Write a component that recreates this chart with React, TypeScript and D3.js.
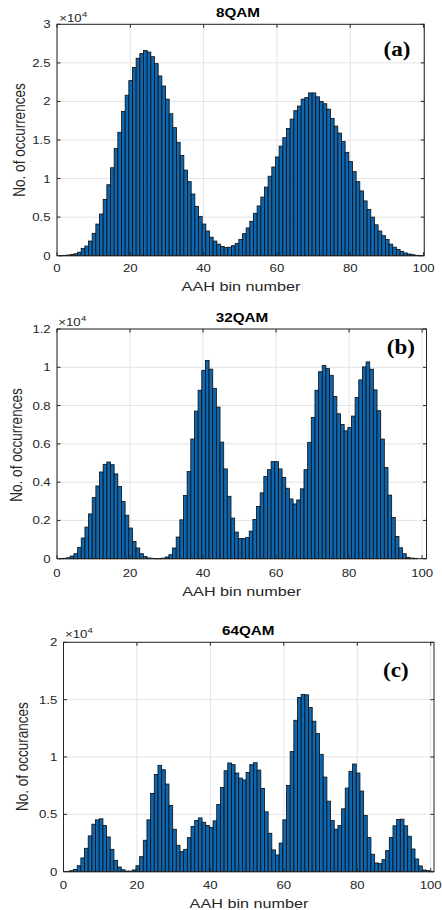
import React from "react";
import * as d3 from "d3";

// Histogram counts, in units of 10^4 occurrences, for AAH bins 1..N
const qam8Counts = [
  0.002, 0.004, 0.008, 0.015, 0.025, 0.045, 0.095, 0.125, 0.19, 0.29,
  0.41, 0.54, 0.73, 0.92, 1.14, 1.39, 1.6, 1.87, 2.08, 2.27,
  2.44, 2.56, 2.62, 2.66, 2.64, 2.58, 2.49, 2.33, 2.2, 2.03,
  1.84, 1.66, 1.47, 1.3, 1.11, 0.96, 0.8, 0.64, 0.51, 0.41,
  0.32, 0.24, 0.19, 0.15, 0.12, 0.105, 0.11, 0.13, 0.16, 0.21,
  0.286, 0.36, 0.446, 0.55, 0.645, 0.76, 0.89, 1.03, 1.15, 1.28,
  1.42, 1.53, 1.65, 1.77, 1.88, 1.94, 2.03, 2.05, 2.11, 2.11,
  2.06, 2.0, 1.97, 1.9, 1.78, 1.68, 1.59, 1.48, 1.34, 1.22,
  1.09, 0.96, 0.84, 0.71, 0.6, 0.5, 0.4, 0.32, 0.26, 0.21,
  0.15, 0.11, 0.08, 0.056, 0.035, 0.022, 0.013, 0.005, 0.002,
];

const qam32Counts = [
  0.001, 0.002, 0.005, 0.014, 0.026, 0.059, 0.108, 0.165, 0.234, 0.319,
  0.38, 0.453, 0.493, 0.505, 0.491, 0.443, 0.377, 0.299, 0.227, 0.16,
  0.09, 0.056, 0.026, 0.012, 0.004, 0.002, 0.001, 0.001, 0.003, 0.009,
  0.021, 0.056, 0.113, 0.203, 0.33, 0.455, 0.625, 0.771, 0.88, 0.984,
  1.036, 0.99, 0.89, 0.792, 0.609, 0.469, 0.326, 0.212, 0.139, 0.105,
  0.105, 0.11, 0.144, 0.205, 0.273, 0.344, 0.429, 0.465, 0.507, 0.507,
  0.469, 0.425, 0.368, 0.312, 0.286, 0.307, 0.365, 0.465, 0.608, 0.738,
  0.88, 0.977, 1.01, 0.993, 0.958, 0.847, 0.757, 0.701, 0.668, 0.686,
  0.745, 0.842, 0.934, 1.002, 1.028, 0.99, 0.882, 0.773, 0.625, 0.476,
  0.332, 0.215, 0.116, 0.057, 0.026, 0.007, 0.003, 0.002,
];

const qam64Counts = [
  0.003, 0.009, 0.02, 0.052, 0.12, 0.204, 0.312, 0.414, 0.452, 0.461,
  0.402, 0.303, 0.195, 0.099, 0.041, 0.017, 0.006, 0.005, 0.015, 0.052,
  0.131, 0.274, 0.452, 0.682, 0.848, 0.927, 0.889, 0.764, 0.577, 0.37,
  0.23, 0.175, 0.195, 0.297, 0.394, 0.446, 0.469, 0.431, 0.402, 0.385,
  0.443, 0.586, 0.735, 0.88, 0.948, 0.933, 0.86, 0.816, 0.8, 0.866,
  0.933, 0.95, 0.886, 0.726, 0.522, 0.335, 0.19, 0.146, 0.25, 0.452,
  0.752, 1.047, 1.32, 1.519, 1.545, 1.542, 1.431, 1.312, 1.204, 1.023,
  0.825, 0.615, 0.446, 0.37, 0.402, 0.548, 0.729, 0.875, 0.939, 0.86,
  0.703, 0.49, 0.297, 0.152, 0.076, 0.07, 0.105, 0.184, 0.297, 0.4,
  0.455, 0.458, 0.4, 0.309, 0.198, 0.111, 0.05, 0.015, 0.009, 0.003,
];

const xTickValues = [0, 20, 40, 60, 80, 100];
const yTicks8 = [0, 0.5, 1, 1.5, 2, 2.5, 3];
const yTicks32 = [0, 0.2, 0.4, 0.6, 0.8, 1, 1.2];
const yTicks64 = [0, 0.5, 1, 1.5, 2];
const titles = ["8QAM", "32QAM", "64QAM"];
const panelTags = ["(a)", "(b)", "(c)"];
const yLabels = ["No. of occurrences", "No. of occurrences", "No. of occurances"];
const xLabel = "AAH bin number";

// layout (pixels) per panel
const layouts = [
  {
    left: 57, right: 424.3, top: 24.3, bottom: 255.7, xMax: 100.2, binOffset: -0.4,
    titleX: 238, titleY: 17.3, expX: 59.3, expY: 21.7, tickRight: 50.5, xTickY: 271.5,
    xLabelX: 241, xLabelY: 291, yLabelX: 25, yLabelY: 140, tagX: 383.5, tagY: 55.5,
  },
  {
    left: 57, right: 426.5, top: 329, bottom: 558.7, xMax: 101.2, binOffset: -0.35,
    titleX: 242, titleY: 321.7, expX: 58.3, expY: 325.5, tickRight: 50.7, xTickY: 576.7,
    xLabelX: 241.7, xLabelY: 596, yLabelX: 21.7, yLabelY: 445, tagX: 386.7, tagY: 353.5,
  },
  {
    left: 63.5, right: 434, top: 642.3, bottom: 871.7, xMax: 100.9, binOffset: -0.27,
    titleX: 248.3, titleY: 635, expX: 65, expY: 638.3, tickRight: 57.3, xTickY: 889,
    xLabelX: 249, xLabelY: 908.3, yLabelX: 28, yLabelY: 756.7, tagX: 383, tagY: 677,
  },
];

const SX = 1.2; // horizontal text stretch of the reference
const FONT = "'Liberation Sans', Arial, Helvetica, sans-serif";
const AXIS = "#262626";

function SText({ x, y, size, anchor = "start", bold = false, family = FONT, color = AXIS, sx = SX, dy, children }: any) {
  return (
    <text
      transform={`translate(${x},${y}) scale(${sx},1)`}
      textAnchor={anchor}
      fontSize={size}
      fontFamily={family}
      fontWeight={bold ? "bold" : "normal"}
      fill={color}
      dy={dy}
    >
      {children}
    </text>
  );
}

function Panel({ L, counts, yTicks, title, tag, yLabel }: any) {
  const yMax = yTicks[yTicks.length - 1];
  const x = d3.scaleLinear().domain([0, L.xMax]).range([L.left, L.right]);
  const y = d3.scaleLinear().domain([0, yMax]).range([L.bottom, L.top]);
  const tk = 3.5;
  return (
    <g>
      {/* grid */}
      {xTickValues.map((t) => (
        <line key={"gx" + t} x1={x(t)} x2={x(t)} y1={L.top} y2={L.bottom} stroke="#e3e3e3" strokeWidth={1} />
      ))}
      {yTicks.map((t: number) => (
        <line key={"gy" + t} x1={L.left} x2={L.right} y1={y(t)} y2={y(t)} stroke="#e3e3e3" strokeWidth={1} />
      ))}
      {/* bars */}
      {counts.map((v: number, i: number) => {
        const k = i + 1;
        const x0 = x(k + L.binOffset);
        const x1 = x(k + L.binOffset + 1);
        return (
          <rect
            key={"b" + k}
            x={x0}
            y={y(v)}
            width={x1 - x0}
            height={Math.max(0.3, y(0) - y(v))}
            fill="#0b67b2"
            stroke="#111"
            strokeWidth={0.85}
          />
        );
      })}
      {/* box */}
      <rect x={L.left} y={L.top} width={L.right - L.left} height={L.bottom - L.top} fill="none" stroke={AXIS} strokeWidth={1} />
      {/* ticks */}
      {xTickValues.map((t) => (
        <g key={"tx" + t}>
          <line x1={x(t)} x2={x(t)} y1={L.bottom} y2={L.bottom - tk} stroke={AXIS} />
          <line x1={x(t)} x2={x(t)} y1={L.top} y2={L.top + tk} stroke={AXIS} />
          <SText x={x(t)} y={L.xTickY} size={11} anchor="middle">{String(t)}</SText>
        </g>
      ))}
      {yTicks.map((t: number) => (
        <g key={"ty" + t}>
          <line x1={L.left} x2={L.left + tk} y1={y(t)} y2={y(t)} stroke={AXIS} />
          <line x1={L.right} x2={L.right - tk} y1={y(t)} y2={y(t)} stroke={AXIS} />
          <SText x={L.tickRight} y={y(t)} size={11} anchor="end" dy="0.36em">{String(t)}</SText>
        </g>
      ))}
      {/* exponent */}
      <SText x={L.expX} y={L.expY} size={11}>{"\u00d710"}</SText>
      <SText x={L.expX + 22.6} y={L.expY - 5} size={8}>4</SText>
      {/* title */}
      <SText x={L.titleX} y={L.titleY} size={12} anchor="middle" bold color="#000" sx={1.27}>{title}</SText>
      {/* x label */}
      <SText x={L.xLabelX} y={L.xLabelY} size={13.5} anchor="middle">{xLabel}</SText>
      {/* y label */}
      <text
        transform={`translate(${L.yLabelX},${L.yLabelY}) rotate(-90) scale(1,${SX})`}
        textAnchor="middle"
        fontSize={13.5}
        fontFamily={FONT}
        fill={AXIS}
      >
        {yLabel}
      </text>
      {/* panel tag */}
      <SText x={L.tagX} y={L.tagY} size={21} bold color="#000" sx={1.1} family="'Liberation Serif', 'Times New Roman', serif">{tag}</SText>
    </g>
  );
}

export default function App() {
  const countsList = [qam8Counts, qam32Counts, qam64Counts];
  const ticksList = [yTicks8, yTicks32, yTicks64];
  return (
    <svg
      width={442}
      height={910}
      viewBox="0 0 442 910"
      style={{ position: "absolute", left: 0, top: 0, background: "#fff" }}
    >
      <rect x={0} y={0} width={442} height={910} fill="#fff" />
      {layouts.map((L, i) => (
        <Panel
          key={i}
          L={L}
          counts={countsList[i]}
          yTicks={ticksList[i]}
          title={titles[i]}
          tag={panelTags[i]}
          yLabel={yLabels[i]}
        />
      ))}
    </svg>
  );
}
